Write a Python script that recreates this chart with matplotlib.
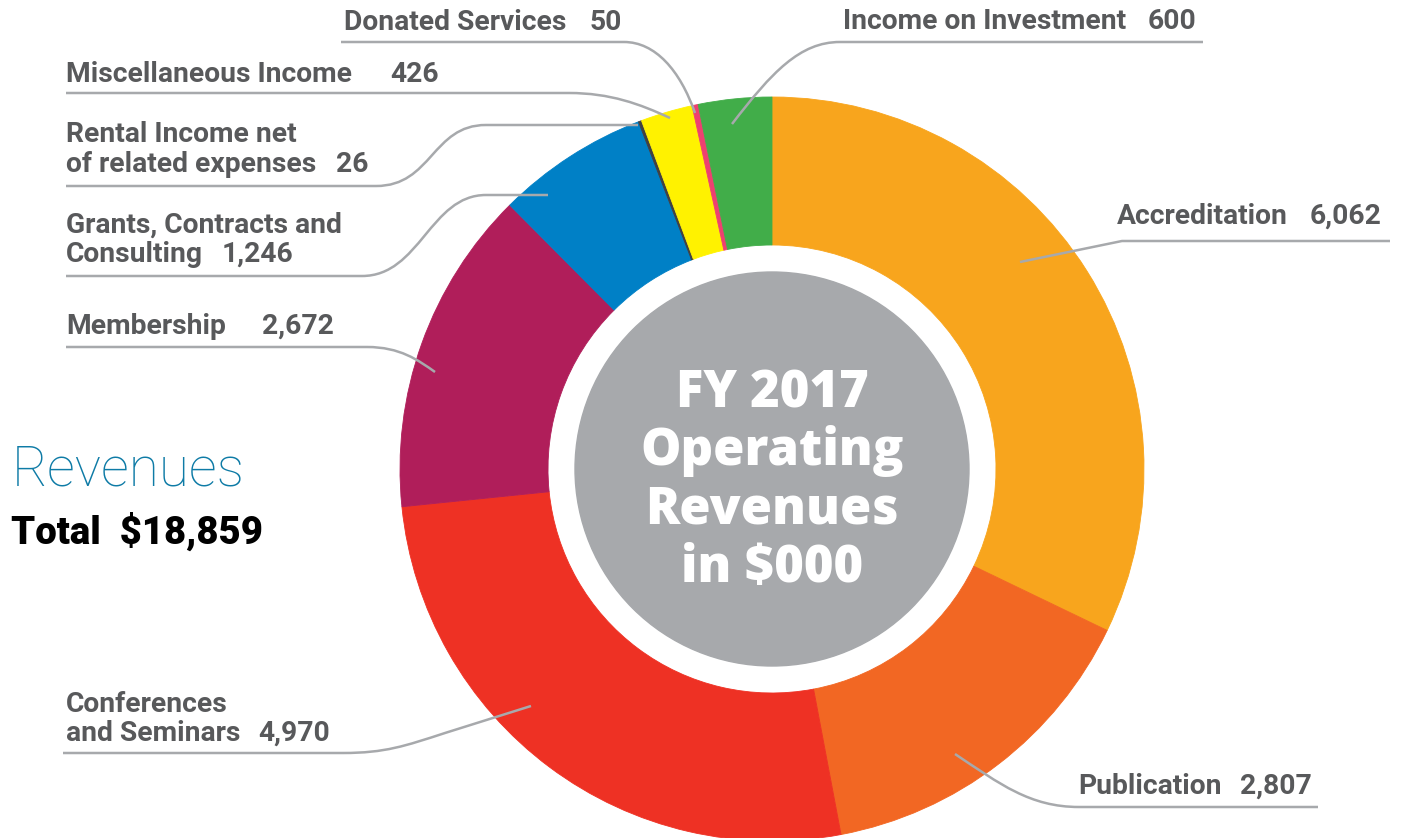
import matplotlib
matplotlib.use("Agg")
import matplotlib.pyplot as plt
from matplotlib.path import Path
from matplotlib.patches import PathPatch, Circle

# FY 2017 operating revenues, $000, clockwise from the top
categories = ["Accreditation", "Publication", "Conferences\nand Seminars", "Membership",
              "Grants, Contracts and\nConsulting", "Rental Income net\nof related expenses",
              "Miscellaneous Income", "Donated Services", "Income on Investment"]
values = [6062, 2807, 4970, 2672, 1246, 26, 426, 50, 600]
colors = ["#F8A51D", "#F26723", "#EE3124", "#B01E5A", "#0080C6",
          "#414042", "#FFF200", "#EE4070", "#41AD49"]
total = sum(values)

TXT = "#58595B"
LINE = "#A7A9AC"

fig = plt.figure(figsize=(14.08, 8.38), dpi=100)
ax = fig.add_axes([0, 0, 1, 1])

# pixel coords, y goes down -> clockwise on screen is counterclockwise in data
cx, cy, R, W = 772, 469, 372, 148
wedges, _ = ax.pie(values, colors=colors, center=(cx, cy), radius=R, startangle=-90,
                   counterclock=True, wedgeprops=dict(width=W, linewidth=0.6))
for w in wedges:
    w.set_edgecolor(w.get_facecolor())
ax.add_patch(Circle((cx, cy), 197, color="#A7A9AC", zorder=3))

ax.set_xlim(0, 1408)
ax.set_ylim(838, 0)
ax.set_aspect("equal")
ax.axis("off")

# label layout: left x, baseline of last line, x of the value
layout = {
    "Accreditation": (1117, 224, 1310),
    "Publication": (1078, 794, 1240),
    "Conferences\nand Seminars": (66, 741, 258),
    "Membership": (66, 334, 262),
    "Grants, Contracts and\nConsulting": (66, 262, 222),
    "Rental Income net\nof related expenses": (66, 172, 336),
    "Miscellaneous Income": (66, 82, 390),
    "Donated Services": (344, 30, 590),
    "Income on Investment": (843, 29, 1148),
}
lfont = dict(family="Roboto", fontweight="bold", fontsize=20.3, color=TXT, va="baseline")
for name, v in zip(categories, values):
    x, yb, vx = layout[name]
    lines = name.split("\n")
    for i, ln in enumerate(lines):
        ax.text(x, yb - 29.5 * (len(lines) - 1 - i), ln, **lfont)
    ax.text(vx, yb, f"{v:,}", **lfont)

# leader lines
M, L, C = Path.MOVETO, Path.LINETO, Path.CURVE4
leaders = [
    ([(341, 42), (624, 42), (655, 42), (680, 70), (695, 113)], [M, L, C, C, C]),
    ([(66, 93), (569, 93), (610, 93), (640, 104), (670, 118)], [M, L, C, C, C]),
    ([(66, 186), (376, 186), (432, 186), (432, 125), (486, 125), (638, 125)], [M, L, C, C, C, L]),
    ([(66, 276), (362, 276), (420, 276), (430, 195), (486, 195), (548, 195)], [M, L, C, C, C, L]),
    ([(66, 347), (367, 347), (400, 347), (418, 360), (435, 372)], [M, L, C, C, C]),
    ([(63, 753), (343, 753), (385, 753), (405, 746), (445, 733), (531, 706)], [M, L, C, C, C, L]),
    ([(1390, 241), (1122, 241), (1020, 262)], [M, L, L]),
    ([(1318, 807), (1079, 807), (1030, 807), (1000, 784), (955, 754)], [M, L, C, C, C]),
    ([(1203, 42), (840, 42), (800, 42), (772, 72), (732, 124)], [M, L, C, C, C]),
]
for pts, codes in leaders:
    ax.add_patch(PathPatch(Path(pts, codes), fill=False, edgecolor=LINE, lw=1.8, zorder=4))

# centre title
cfont = dict(family=["Open Sans", "Roboto"], fontweight="heavy", fontsize=36.5, color="white",
             ha="center", va="baseline", zorder=5)
for i, ln in enumerate(["FY 2017", "Operating", "Revenues", "in $000"]):
    ax.text(cx, 407 + 58.3 * i, ln, **cfont)

ax.text(12, 485, "Revenues", family="Roboto", fontweight="light", fontsize=39.5,
        color="#0E7BA6", va="baseline")
ax.text(11, 544, f"Total  ${total:,}", family="Roboto", fontweight="heavy", fontsize=27.5,
        color="black", va="baseline")

fig.savefig("out.png", dpi=100)
